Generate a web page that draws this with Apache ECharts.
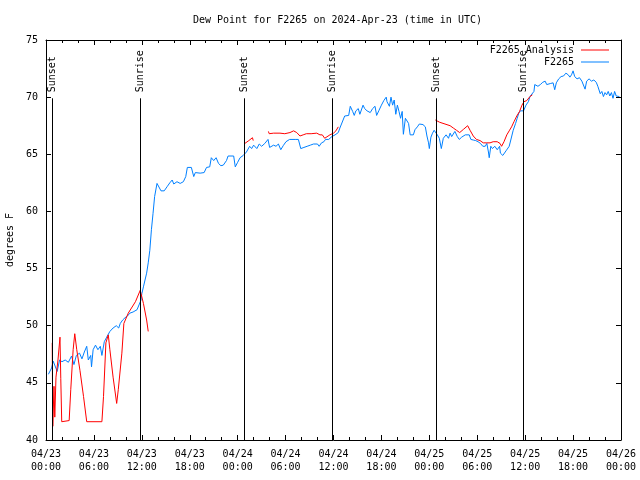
<!DOCTYPE html>
<html><head><meta charset="utf-8">
<script src="https://cdn.jsdelivr.net/npm/echarts@6/dist/echarts.min.js"></script>
<style>html,body{margin:0;padding:0;background:#fff}#c{width:640px;height:480px}</style>
</head><body><div id="c"></div>
<script>
const titleText = 'Dew Point for F2265 on 2024-Apr-23 (time in UTC)';
const yName = 'degrees F';
const xTickLabels = ['04/23\n00:00','04/23\n06:00','04/23\n12:00','04/23\n18:00','04/24\n00:00','04/24\n06:00','04/24\n12:00','04/24\n18:00','04/25\n00:00','04/25\n06:00','04/25\n12:00','04/25\n18:00','04/26\n00:00'];
const seriesNames = ['F2265 Analysis','F2265'];
// hours since 04/23 00:00 UTC
const blueHours = [0.3,0.7,0.9,1.1,1.4,1.7,2.0,2.4,2.8,3.2,3.5,3.8,4.2,4.5,4.8,5.1,5.3,5.6,5.7,5.9,6.2,6.5,6.8,7.0,7.3,7.6,8.0,8.4,8.8,9.1,9.3,9.6,9.9,10.2,10.5,10.9,11.4,11.6,11.9,12.0,12.2,12.4,12.6,12.8,13.0,13.2,13.4,13.6,13.9,14.1,14.4,14.8,15.2,15.5,15.8,16.0,16.4,16.8,17.2,17.5,17.7,18.2,18.5,18.7,19.3,19.8,20.1,20.5,20.7,21.0,21.3,21.6,21.9,22.2,22.6,22.8,23.5,23.7,24.0,24.3,24.7,25.1,25.5,25.75,26.0,26.4,26.7,27.0,27.4,27.8,28.0,28.5,28.8,29.1,29.4,29.7,30.05,30.5,31.2,31.6,31.9,32.3,32.7,33.1,33.5,34.0,34.2,34.5,34.8,35.0,35.1,35.4,35.8,36.2,36.6,36.8,37.0,37.2,37.4,37.65,37.9,38.1,38.4,38.6,38.8,39.1,39.3,39.7,39.9,40.2,40.6,40.9,41.2,41.4,41.7,42.0,42.3,42.6,42.7,43.0,43.2,43.4,43.6,43.8,44.0,44.2,44.4,44.6,44.75,45.0,45.2,45.4,45.6,46.0,46.2,46.5,46.75,47.2,47.5,47.7,47.9,48.0,48.2,48.4,48.6,48.8,49.0,49.25,49.5,49.75,50.1,50.4,50.6,50.8,51.2,51.5,51.75,52.05,52.5,52.75,53.0,53.2,53.5,53.8,54.1,54.4,54.7,55.0,55.2,55.4,55.5,55.7,55.9,56.2,56.5,56.8,56.9,57.2,57.6,57.8,58.0,58.2,58.5,58.8,59.0,59.2,59.4,59.6,59.8,60.0,60.1,60.4,60.6,60.8,61.1,61.2,61.4,61.6,61.9,62.2,62.5,62.7,62.9,63.2,63.5,63.7,63.9,64.2,64.5,64.8,65.1,65.4,65.6,65.8,66.0,66.2,66.5,66.8,67.1,67.3,67.5,67.7,68.0,68.3,68.6,68.9,69.1,69.4,69.6,69.8,70.0,70.2,70.4,70.6,70.8,71.0,71.2,71.4,71.6,71.8];
const blueValues = [45.75,46.3,46.9,46.8,46.0,47.0,46.85,47.0,46.8,47.35,46.6,47.4,47.6,47.1,47.7,48.2,47.0,47.4,46.4,47.9,48.3,47.9,48.2,47.4,48.6,49.0,49.5,49.8,50.0,49.8,50.2,50.5,50.7,50.85,51.1,51.2,51.4,51.4,52.25,52.8,53.4,54.0,54.6,55.5,56.6,58.4,59.8,61.3,62.45,62.5,61.8,61.8,62.2,62.5,62.75,62.4,62.6,62.45,62.6,63.05,63.85,63.85,63.05,63.4,63.35,63.4,63.85,63.9,64.7,64.45,64.7,64.2,64.0,64.05,64.45,64.85,64.85,63.9,64.3,64.7,64.9,65.2,65.7,65.5,65.8,65.5,65.9,65.7,65.95,66.3,65.6,65.8,65.7,65.9,65.4,65.75,66.1,66.3,66.3,66.3,65.5,65.6,65.7,65.8,65.9,65.9,65.7,66.0,66.1,66.3,66.2,66.3,66.55,66.7,66.9,67.3,67.65,68.0,68.35,68.4,68.4,69.2,68.75,68.4,68.8,69.0,68.5,69.3,69.0,68.8,68.65,69.0,69.2,68.4,68.85,69.3,69.7,70.0,69.6,69.2,70.0,69.3,69.75,68.5,69.3,68.75,68.15,68.75,66.75,68.15,68.05,67.7,66.7,66.7,67.15,67.4,67.65,67.6,67.4,66.6,66.0,65.5,66.5,66.85,67.1,67.1,66.7,66.4,65.5,66.4,66.7,66.4,66.85,66.55,67.0,66.55,66.3,66.5,66.7,66.85,66.7,66.3,66.25,66.2,66.1,65.95,65.7,65.7,65.95,65.2,64.7,65.7,65.5,65.7,65.4,65.7,65.1,64.9,65.3,65.4,65.7,66.25,67.1,67.7,68.15,68.6,68.8,68.85,68.8,68.85,69.3,69.6,70.05,70.2,70.5,71.1,71.25,70.95,71.1,71.3,71.4,71.1,71.25,71.2,71.25,70.65,71.25,71.6,71.8,71.85,72.1,71.95,71.75,71.95,72.3,71.8,71.6,71.7,71.4,71.5,70.7,71.4,71.6,71.4,71.5,71.3,70.95,70.3,70.5,70.05,70.4,70.2,70.5,70.1,70.4,69.9,70.5,70.1,70.05,70.05];
const redHours = [0.78,0.85,1.0,1.1,1.25,1.5,1.75,1.85,1.97,2.9,3.1,3.4,3.6,3.85,4.25,4.7,5.1,7.0,7.2,7.5,7.8,8.0,8.4,8.85,9.05,9.5,9.75,10.3,11.2,11.8,12.2,12.6,12.8,18.0,24.8,25.4,25.85,25.95,27.0,27.85,27.95,28.5,29.3,29.9,30.55,31.0,31.4,31.8,32.2,32.6,33.2,33.9,34.3,34.6,34.9,35.1,35.55,36.0,36.3,36.6,42.0,48.75,49.3,49.96,50.6,51.0,51.4,51.8,52.3,52.8,53.1,53.5,53.9,54.35,54.75,55.2,55.6,56.0,56.5,56.85,57.05,57.35,57.7,58.0,58.3,58.6,58.95,59.3,59.6,59.85,60.2,60.6,60.9];
const redValues = [48.5,41.2,44.7,42.0,45.5,47.0,49.0,45.4,41.6,41.7,44.4,47.9,49.3,47.9,46.1,43.8,41.6,41.6,43.8,48.5,49.2,47.9,45.5,43.2,44.4,47.6,50.2,51.1,52.1,53.1,51.95,50.5,49.5,null,65.9,66.2,66.45,66.2,null,67.0,66.8,66.85,66.85,66.8,66.9,67.05,66.9,66.6,66.7,66.8,66.8,66.85,66.7,66.7,66.4,66.55,66.7,66.85,67.05,67.4,null,68.0,67.8,67.65,67.5,67.3,67.1,66.9,67.2,67.5,67.1,66.6,66.3,66.2,66.0,66.0,66.0,66.1,66.1,65.95,65.7,66.1,66.7,67.05,67.4,67.85,68.35,68.75,69.3,69.6,69.7,70.05,70.2];
const eventHours = [0.78,11.77,24.8,35.8,48.85,59.75];
const eventLabels = ['Sunset','Sunrise','Sunset','Sunrise','Sunset','Sunrise'];
const eventLineTop = 69.9;

const FONT = 'DejaVu Sans Mono';
const chart = echarts.init(document.getElementById('c'), null, {renderer:'canvas'});
const blueData = blueHours.map((h,i)=>[h, blueValues[i]]);
const redData = redHours.map((h,i)=>[h, redValues[i]]);
const evData = eventHours.map((h,i)=>[h, i]);
const axisCommon = {
  min:0, max:72, interval:6, type:'value',
  axisLine:{show:true, onZero:false, lineStyle:{color:'#000', width:1}},
  axisTick:{show:true, inside:true, length:5, lineStyle:{color:'#000'}},
  minorTick:{show:true, splitNumber:3, length:3, lineStyle:{color:'#000'}},
  splitLine:{show:false}
};
const yCommon = {
  type:'value', min:40, max:75, interval:5,
  axisLine:{show:true, onZero:false, lineStyle:{color:'#000', width:1}},
  axisTick:{show:true, inside:true, length:5, lineStyle:{color:'#000'}},
  splitLine:{show:false}
};
chart.setOption({
  animation:false,
  backgroundColor:'#fff',
  title:{text:titleText, left:188, top:10, textStyle:{fontFamily:FONT, fontSize:10, fontWeight:'normal', color:'#000'}},
  grid:{left:46, right:19, top:40, bottom:40, containLabel:false, outerBoundsMode:'none'},
  legend:{
    data:seriesNames, orient:'vertical', right:31, top:44, align:'right', icon:'rect', padding:0,
    itemWidth:28, itemHeight:1, itemGap:0,
    textStyle:{fontFamily:FONT, fontSize:10, color:'#000', lineHeight:12, padding:[0,2,0,0]},
    inactiveColor:'#ccc'
  },
  xAxis:[
    Object.assign({}, axisCommon, {position:'bottom', axisLabel:{show:true, margin:8, fontFamily:FONT, fontSize:10, color:'#000', lineHeight:13,
      formatter:(v)=> xTickLabels[Math.round(v/6)]}}),
    Object.assign({}, axisCommon, {position:'top', axisLabel:{show:false}})
  ],
  yAxis:[
    Object.assign({}, yCommon, {position:'left', name:yName, nameLocation:'middle', nameGap:31, nameRotate:90,
      nameTextStyle:{fontFamily:FONT, fontSize:10, color:'#000'},
      axisLabel:{show:true, margin:8, fontFamily:FONT, fontSize:10, color:'#000'}}),
    Object.assign({}, yCommon, {position:'right', axisLabel:{show:false}})
  ],
  series:[
    {name:seriesNames[0], type:'line', data:redData, xAxisIndex:0, yAxisIndex:0, symbol:'none', connectNulls:false,
      lineStyle:{color:'#ff0000', width:1}, itemStyle:{color:'#ff0000'}, z:3},
    {name:seriesNames[1], type:'line', data:blueData, xAxisIndex:0, yAxisIndex:0, symbol:'none',
      lineStyle:{color:'#0080ff', width:1}, itemStyle:{color:'#0080ff'}, z:2},
    {name:'events', type:'custom', data:evData, xAxisIndex:0, yAxisIndex:0, clip:false, z:4,
      renderItem:(params, api)=>{
        const b = api.coord([api.value(0), 40]);
        const t = api.coord([api.value(0), eventLineTop]);
        const x = Math.round(b[0]) + 0.5;
        return {type:'group', children:[
          {type:'line', shape:{x1:x, y1:b[1], x2:x, y2:t[1]}, style:{stroke:'#000', lineWidth:1}},
          {type:'text', x:x, y:t[1]-6, rotation:Math.PI/2,
            style:{text:eventLabels[api.value(1)], align:'left', verticalAlign:'middle', font:'10px "'+FONT+'"', fill:'#000'}}
        ]};
      }}
  ]
});
</script></body></html>
